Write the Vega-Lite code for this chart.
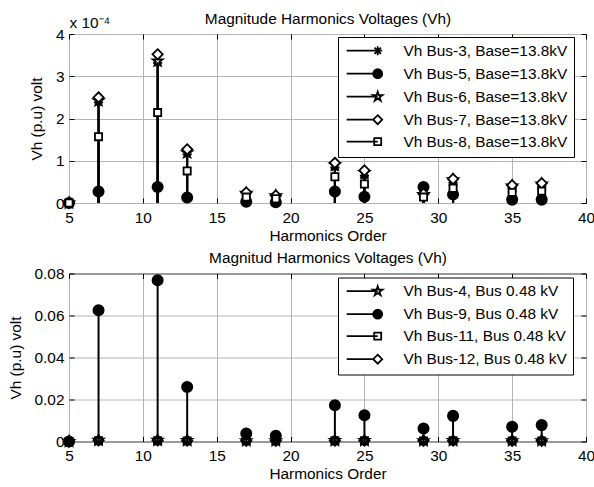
{
  "$schema": "https://vega.github.io/schema/vega-lite/v6.json",
  "padding": {"top": 10, "left": 7, "right": 5, "bottom": 3},
  "spacing": 4.5,
  "background": "white",
  "datasets": {
    "top": [
      {"h": 5, "series": "Vh Bus-3, Base=13.8kV", "v": 0},
      {"h": 7, "series": "Vh Bus-3, Base=13.8kV", "v": 2.38},
      {"h": 11, "series": "Vh Bus-3, Base=13.8kV", "v": 3.32},
      {"h": 13, "series": "Vh Bus-3, Base=13.8kV", "v": 1.15},
      {"h": 17, "series": "Vh Bus-3, Base=13.8kV", "v": 0.2},
      {"h": 19, "series": "Vh Bus-3, Base=13.8kV", "v": 0.14},
      {"h": 23, "series": "Vh Bus-3, Base=13.8kV", "v": 0.84},
      {"h": 25, "series": "Vh Bus-3, Base=13.8kV", "v": 0.65},
      {"h": 29, "series": "Vh Bus-3, Base=13.8kV", "v": 0.18},
      {"h": 31, "series": "Vh Bus-3, Base=13.8kV", "v": 0.48},
      {"h": 35, "series": "Vh Bus-3, Base=13.8kV", "v": 0.36},
      {"h": 37, "series": "Vh Bus-3, Base=13.8kV", "v": 0.4},
      {"h": 5, "series": "Vh Bus-5, Base=13.8kV", "v": 0},
      {"h": 7, "series": "Vh Bus-5, Base=13.8kV", "v": 0.27},
      {"h": 11, "series": "Vh Bus-5, Base=13.8kV", "v": 0.38},
      {"h": 13, "series": "Vh Bus-5, Base=13.8kV", "v": 0.13},
      {"h": 17, "series": "Vh Bus-5, Base=13.8kV", "v": 0.03},
      {"h": 19, "series": "Vh Bus-5, Base=13.8kV", "v": 0.02},
      {"h": 23, "series": "Vh Bus-5, Base=13.8kV", "v": 0.27},
      {"h": 25, "series": "Vh Bus-5, Base=13.8kV", "v": 0.15},
      {"h": 29, "series": "Vh Bus-5, Base=13.8kV", "v": 0.38},
      {"h": 31, "series": "Vh Bus-5, Base=13.8kV", "v": 0.2},
      {"h": 35, "series": "Vh Bus-5, Base=13.8kV", "v": 0.08},
      {"h": 37, "series": "Vh Bus-5, Base=13.8kV", "v": 0.08},
      {"h": 5, "series": "Vh Bus-6, Base=13.8kV", "v": 0},
      {"h": 7, "series": "Vh Bus-6, Base=13.8kV", "v": 2.42},
      {"h": 11, "series": "Vh Bus-6, Base=13.8kV", "v": 3.36},
      {"h": 13, "series": "Vh Bus-6, Base=13.8kV", "v": 1.19},
      {"h": 17, "series": "Vh Bus-6, Base=13.8kV", "v": 0.23},
      {"h": 19, "series": "Vh Bus-6, Base=13.8kV", "v": 0.17},
      {"h": 23, "series": "Vh Bus-6, Base=13.8kV", "v": 0.9},
      {"h": 25, "series": "Vh Bus-6, Base=13.8kV", "v": 0.72},
      {"h": 29, "series": "Vh Bus-6, Base=13.8kV", "v": 0.2},
      {"h": 31, "series": "Vh Bus-6, Base=13.8kV", "v": 0.55},
      {"h": 35, "series": "Vh Bus-6, Base=13.8kV", "v": 0.4},
      {"h": 37, "series": "Vh Bus-6, Base=13.8kV", "v": 0.45},
      {"h": 5, "series": "Vh Bus-7, Base=13.8kV", "v": 0},
      {"h": 7, "series": "Vh Bus-7, Base=13.8kV", "v": 2.5},
      {"h": 11, "series": "Vh Bus-7, Base=13.8kV", "v": 3.52},
      {"h": 13, "series": "Vh Bus-7, Base=13.8kV", "v": 1.27},
      {"h": 17, "series": "Vh Bus-7, Base=13.8kV", "v": 0.25},
      {"h": 19, "series": "Vh Bus-7, Base=13.8kV", "v": 0.18},
      {"h": 23, "series": "Vh Bus-7, Base=13.8kV", "v": 0.95},
      {"h": 25, "series": "Vh Bus-7, Base=13.8kV", "v": 0.77},
      {"h": 29, "series": "Vh Bus-7, Base=13.8kV", "v": 0.22},
      {"h": 31, "series": "Vh Bus-7, Base=13.8kV", "v": 0.57},
      {"h": 35, "series": "Vh Bus-7, Base=13.8kV", "v": 0.42},
      {"h": 37, "series": "Vh Bus-7, Base=13.8kV", "v": 0.47},
      {"h": 5, "series": "Vh Bus-8, Base=13.8kV", "v": 0},
      {"h": 7, "series": "Vh Bus-8, Base=13.8kV", "v": 1.57},
      {"h": 11, "series": "Vh Bus-8, Base=13.8kV", "v": 2.14},
      {"h": 13, "series": "Vh Bus-8, Base=13.8kV", "v": 0.76},
      {"h": 17, "series": "Vh Bus-8, Base=13.8kV", "v": 0.14},
      {"h": 19, "series": "Vh Bus-8, Base=13.8kV", "v": 0.1},
      {"h": 23, "series": "Vh Bus-8, Base=13.8kV", "v": 0.62},
      {"h": 25, "series": "Vh Bus-8, Base=13.8kV", "v": 0.45},
      {"h": 29, "series": "Vh Bus-8, Base=13.8kV", "v": 0.14},
      {"h": 31, "series": "Vh Bus-8, Base=13.8kV", "v": 0.35},
      {"h": 35, "series": "Vh Bus-8, Base=13.8kV", "v": 0.25},
      {"h": 37, "series": "Vh Bus-8, Base=13.8kV", "v": 0.28}
    ],
    "bottom": [
      {"h": 5, "series": "Vh Bus-4, Bus 0.48 kV", "v": 0},
      {"h": 7, "series": "Vh Bus-4, Bus 0.48 kV", "v": 0.0006},
      {"h": 11, "series": "Vh Bus-4, Bus 0.48 kV", "v": 0.0006},
      {"h": 13, "series": "Vh Bus-4, Bus 0.48 kV", "v": 0.0005},
      {"h": 17, "series": "Vh Bus-4, Bus 0.48 kV", "v": 0.0004},
      {"h": 19, "series": "Vh Bus-4, Bus 0.48 kV", "v": 0.0004},
      {"h": 23, "series": "Vh Bus-4, Bus 0.48 kV", "v": 0.0005},
      {"h": 25, "series": "Vh Bus-4, Bus 0.48 kV", "v": 0.0005},
      {"h": 29, "series": "Vh Bus-4, Bus 0.48 kV", "v": 0.0004},
      {"h": 31, "series": "Vh Bus-4, Bus 0.48 kV", "v": 0.0005},
      {"h": 35, "series": "Vh Bus-4, Bus 0.48 kV", "v": 0.0004},
      {"h": 37, "series": "Vh Bus-4, Bus 0.48 kV", "v": 0.0004},
      {"h": 5, "series": "Vh Bus-9, Bus 0.48 kV", "v": 0},
      {"h": 7, "series": "Vh Bus-9, Bus 0.48 kV", "v": 0.0625},
      {"h": 11, "series": "Vh Bus-9, Bus 0.48 kV", "v": 0.0768},
      {"h": 13, "series": "Vh Bus-9, Bus 0.48 kV", "v": 0.026},
      {"h": 17, "series": "Vh Bus-9, Bus 0.48 kV", "v": 0.0038},
      {"h": 19, "series": "Vh Bus-9, Bus 0.48 kV", "v": 0.0027},
      {"h": 23, "series": "Vh Bus-9, Bus 0.48 kV", "v": 0.0173},
      {"h": 25, "series": "Vh Bus-9, Bus 0.48 kV", "v": 0.0125},
      {"h": 29, "series": "Vh Bus-9, Bus 0.48 kV", "v": 0.0062},
      {"h": 31, "series": "Vh Bus-9, Bus 0.48 kV", "v": 0.0122},
      {"h": 35, "series": "Vh Bus-9, Bus 0.48 kV", "v": 0.007},
      {"h": 37, "series": "Vh Bus-9, Bus 0.48 kV", "v": 0.0078},
      {"h": 5, "series": "Vh Bus-11, Bus 0.48 kV", "v": 0},
      {"h": 7, "series": "Vh Bus-11, Bus 0.48 kV", "v": 0.0004},
      {"h": 11, "series": "Vh Bus-11, Bus 0.48 kV", "v": 0.0004},
      {"h": 13, "series": "Vh Bus-11, Bus 0.48 kV", "v": 0.0003},
      {"h": 17, "series": "Vh Bus-11, Bus 0.48 kV", "v": 0.0003},
      {"h": 19, "series": "Vh Bus-11, Bus 0.48 kV", "v": 0.0003},
      {"h": 23, "series": "Vh Bus-11, Bus 0.48 kV", "v": 0.0004},
      {"h": 25, "series": "Vh Bus-11, Bus 0.48 kV", "v": 0.0004},
      {"h": 29, "series": "Vh Bus-11, Bus 0.48 kV", "v": 0.0003},
      {"h": 31, "series": "Vh Bus-11, Bus 0.48 kV", "v": 0.0004},
      {"h": 35, "series": "Vh Bus-11, Bus 0.48 kV", "v": 0.0003},
      {"h": 37, "series": "Vh Bus-11, Bus 0.48 kV", "v": 0.0003},
      {"h": 5, "series": "Vh Bus-12, Bus 0.48 kV", "v": 0},
      {"h": 7, "series": "Vh Bus-12, Bus 0.48 kV", "v": 0.0005},
      {"h": 11, "series": "Vh Bus-12, Bus 0.48 kV", "v": 0.0005},
      {"h": 13, "series": "Vh Bus-12, Bus 0.48 kV", "v": 0.0004},
      {"h": 17, "series": "Vh Bus-12, Bus 0.48 kV", "v": 0.0003},
      {"h": 19, "series": "Vh Bus-12, Bus 0.48 kV", "v": 0.0003},
      {"h": 23, "series": "Vh Bus-12, Bus 0.48 kV", "v": 0.0004},
      {"h": 25, "series": "Vh Bus-12, Bus 0.48 kV", "v": 0.0004},
      {"h": 29, "series": "Vh Bus-12, Bus 0.48 kV", "v": 0.0003},
      {"h": 31, "series": "Vh Bus-12, Bus 0.48 kV", "v": 0.0004},
      {"h": 35, "series": "Vh Bus-12, Bus 0.48 kV", "v": 0.0003},
      {"h": 37, "series": "Vh Bus-12, Bus 0.48 kV", "v": 0.0003}
    ]
  },
  "vconcat": [
    {
      "width": 517,
      "height": 169,
      "data": {"name": "top"},
      "resolve": {"scale": {"shape": "independent", "fill": "independent"}, "axis": {"x": "independent", "y": "independent"}},
      "layer": [
        {
          "mark": {"type": "rule", "color": "black", "strokeWidth": 2},
          "encoding": {
            "x": {"field": "h", "type": "quantitative", "scale": {"domain": [5, 40], "nice": false}, "axis": {"orient": "bottom", "values": [5, 10, 15, 20, 25, 30, 35, 40], "title": "Harmonics Order"}},
            "y": {"field": "v", "type": "quantitative", "scale": {"domain": [0, 4], "nice": false}, "axis": {"orient": "left", "values": [0, 1, 2, 3, 4], "format": "d", "title": "Vh (p.u) volt"}},
            "y2": {"datum": 0}
          }
        },
        {
          "mark": {"type": "point", "stroke": "black", "strokeWidth": 1.8, "size": 105, "opacity": 1, "fillOpacity": 1},
          "encoding": {
            "x": {"field": "h", "type": "quantitative", "axis": {"orient": "top", "values": [5, 10, 15, 20, 25, 30, 35, 40], "labels": false, "grid": false, "title": "Magnitude Harmonics Voltages (Vh)", "titleY": -11, "titleBaseline": "alphabetic"}},
            "y": {"field": "v", "type": "quantitative", "axis": {"orient": "right", "values": [0, 1, 2, 3, 4], "labels": false, "grid": false, "title": "x 10⁻⁴", "titleAngle": 0, "titleX": -517, "titleY": -7, "titleAlign": "left", "titleBaseline": "alphabetic"}},
            "shape": {"field": "series", "type": "nominal", "legend": null, "scale": {
              "domain": ["Vh Bus-3, Base=13.8kV", "Vh Bus-5, Base=13.8kV", "Vh Bus-6, Base=13.8kV", "Vh Bus-7, Base=13.8kV", "Vh Bus-8, Base=13.8kV"],
              "range": ["M-0.9,0H0.9M0,-0.9V0.9M-0.64,-0.64L0.64,0.64M-0.64,0.64L0.64,-0.64", "circle", "M0,-1L0.225,-0.309L0.951,-0.309L0.363,0.118L0.588,0.809L0,0.382L-0.588,0.809L-0.363,0.118L-0.951,-0.309L-0.225,-0.309Z", "M0,-1L1,0L0,1L-1,0Z", "M-0.7,-0.7H0.7V0.7H-0.7Z"]}},
            "fill": {"field": "series", "type": "nominal", "legend": null, "scale": {
              "domain": ["Vh Bus-3, Base=13.8kV", "Vh Bus-5, Base=13.8kV", "Vh Bus-6, Base=13.8kV", "Vh Bus-7, Base=13.8kV", "Vh Bus-8, Base=13.8kV"],
              "range": ["white", "black", "white", "white", "white"]}}
          }
        },
        {
          "mark": {"type": "point", "stroke": "black", "strokeWidth": 1.8, "opacity": 0},
          "encoding": {
            "x": {"field": "h", "type": "quantitative", "axis": null},
            "y": {"field": "v", "type": "quantitative", "axis": null},
            "shape": {"field": "series", "type": "nominal", "scale": {
              "domain": ["Vh Bus-3, Base=13.8kV", "Vh Bus-5, Base=13.8kV", "Vh Bus-6, Base=13.8kV", "Vh Bus-7, Base=13.8kV", "Vh Bus-8, Base=13.8kV"],
              "range": ["M-5.17,0H0.75M0,-0.75V0.75M-0.53,-0.53L0.53,0.53M-0.53,0.53L0.53,-0.53", "M-5.17,0H0M0.75,0C0.75,0.414,0.414,0.75,0,0.75C-0.414,0.75,-0.75,0.414,-0.75,0C-0.75,-0.414,-0.414,-0.75,0,-0.75C0.414,-0.75,0.75,-0.414,0.75,0Z", "M-5.17,0H0M0,-0.833L0.187,-0.257L0.792,-0.257L0.302,0.098L0.49,0.674L0,0.318L-0.49,0.674L-0.302,0.098L-0.792,-0.257L-0.187,-0.257Z", "M-5.17,0H-0.75M0,-0.75L0.75,0L0,0.75L-0.75,0Z", "M-5.17,0H0M-0.583,-0.583H0.583V0.583H-0.583Z"]},
              "legend": {"title": null, "orient": "none", "legendX": 269, "legendY": 3, "padding": 6, "rowPadding": 5, "symbolSize": 144, "symbolOffset": 26, "labelOffset": 18, "symbolStrokeWidth": 1.8, "symbolStrokeColor": "black", "symbolOpacity": 1,
                "encode": {"symbols": {"update": {"opacity": {"value": 1}, "strokeOpacity": {"value": 1}, "fillOpacity": {"value": 1}}}}}},
            "fill": {"field": "series", "type": "nominal", "scale": {
              "domain": ["Vh Bus-3, Base=13.8kV", "Vh Bus-5, Base=13.8kV", "Vh Bus-6, Base=13.8kV", "Vh Bus-7, Base=13.8kV", "Vh Bus-8, Base=13.8kV"],
              "range": ["white", "black", "white", "white", "white"]},
              "legend": {"title": null, "orient": "none", "legendX": 269, "legendY": 3, "padding": 6, "rowPadding": 5, "symbolSize": 144, "symbolOffset": 26, "labelOffset": 18, "symbolStrokeWidth": 1.8, "symbolStrokeColor": "black", "symbolOpacity": 1,
                "encode": {"symbols": {"update": {"opacity": {"value": 1}, "strokeOpacity": {"value": 1}, "fillOpacity": {"value": 1}}}}}}
          }
        }
      ]
    },
    {
      "width": 517,
      "height": 168,
      "data": {"name": "bottom"},
      "resolve": {"scale": {"shape": "independent", "fill": "independent"}, "axis": {"x": "independent", "y": "independent"}},
      "layer": [
        {
          "mark": {"type": "rule", "color": "black", "strokeWidth": 2},
          "encoding": {
            "x": {"field": "h", "type": "quantitative", "scale": {"domain": [5, 40], "nice": false}, "axis": {"orient": "bottom", "values": [5, 10, 15, 20, 25, 30, 35, 40], "title": "Harmonics Order"}},
            "y": {"field": "v", "type": "quantitative", "scale": {"domain": [0, 0.08], "nice": false}, "axis": {"orient": "left", "values": [0, 0.02, 0.04, 0.06, 0.08], "labelExpr": "datum.value == 0 ? '0' : format(datum.value, '.2f')", "title": "Vh (p.u) volt"}},
            "y2": {"datum": 0}
          }
        },
        {
          "mark": {"type": "point", "stroke": "black", "strokeWidth": 1.8, "size": 105, "opacity": 1, "fillOpacity": 1},
          "encoding": {
            "x": {"field": "h", "type": "quantitative", "axis": {"orient": "top", "values": [5, 10, 15, 20, 25, 30, 35, 40], "labels": false, "grid": false, "title": "Magnitud Harmonics Voltages (Vh)", "titleY": -11, "titleBaseline": "alphabetic"}},
            "y": {"field": "v", "type": "quantitative", "axis": {"orient": "right", "values": [0, 0.02, 0.04, 0.06, 0.08], "labels": false, "grid": false, "title": null}},
            "shape": {"field": "series", "type": "nominal", "legend": null, "scale": {
              "domain": ["Vh Bus-4, Bus 0.48 kV", "Vh Bus-9, Bus 0.48 kV", "Vh Bus-11, Bus 0.48 kV", "Vh Bus-12, Bus 0.48 kV"],
              "range": ["M0,-1L0.225,-0.309L0.951,-0.309L0.363,0.118L0.588,0.809L0,0.382L-0.588,0.809L-0.363,0.118L-0.951,-0.309L-0.225,-0.309Z", "circle", "M-0.7,-0.7H0.7V0.7H-0.7Z", "M0,-1L1,0L0,1L-1,0Z"]}},
            "fill": {"field": "series", "type": "nominal", "legend": null, "scale": {
              "domain": ["Vh Bus-4, Bus 0.48 kV", "Vh Bus-9, Bus 0.48 kV", "Vh Bus-11, Bus 0.48 kV", "Vh Bus-12, Bus 0.48 kV"],
              "range": ["transparent", "black", "transparent", "transparent"]}}
          }
        },
        {
          "mark": {"type": "point", "stroke": "black", "strokeWidth": 1.8, "opacity": 0},
          "encoding": {
            "x": {"field": "h", "type": "quantitative", "axis": null},
            "y": {"field": "v", "type": "quantitative", "axis": null},
            "shape": {"field": "series", "type": "nominal", "scale": {
              "domain": ["Vh Bus-4, Bus 0.48 kV", "Vh Bus-9, Bus 0.48 kV", "Vh Bus-11, Bus 0.48 kV", "Vh Bus-12, Bus 0.48 kV"],
              "range": ["M-5.17,0H0M0,-0.833L0.187,-0.257L0.792,-0.257L0.302,0.098L0.49,0.674L0,0.318L-0.49,0.674L-0.302,0.098L-0.792,-0.257L-0.187,-0.257Z", "M-5.17,0H0M0.75,0C0.75,0.414,0.414,0.75,0,0.75C-0.414,0.75,-0.75,0.414,-0.75,0C-0.75,-0.414,-0.414,-0.75,0,-0.75C0.414,-0.75,0.75,-0.414,0.75,0Z", "M-5.17,0H0M-0.583,-0.583H0.583V0.583H-0.583Z", "M-5.17,0H-0.75M0,-0.75L0.75,0L0,0.75L-0.75,0Z"]},
              "legend": {"title": null, "orient": "none", "legendX": 269, "legendY": 4, "padding": 6, "rowPadding": 5, "symbolSize": 144, "symbolOffset": 26, "labelOffset": 18, "symbolStrokeWidth": 1.8, "symbolStrokeColor": "black", "symbolOpacity": 1,
                "encode": {"symbols": {"update": {"opacity": {"value": 1}, "strokeOpacity": {"value": 1}, "fillOpacity": {"value": 1}}}}}},
            "fill": {"field": "series", "type": "nominal", "scale": {
              "domain": ["Vh Bus-4, Bus 0.48 kV", "Vh Bus-9, Bus 0.48 kV", "Vh Bus-11, Bus 0.48 kV", "Vh Bus-12, Bus 0.48 kV"],
              "range": ["white", "black", "white", "white"]},
              "legend": {"title": null, "orient": "none", "legendX": 269, "legendY": 4, "padding": 6, "rowPadding": 5, "symbolSize": 144, "symbolOffset": 26, "labelOffset": 18, "symbolStrokeWidth": 1.8, "symbolStrokeColor": "black", "symbolOpacity": 1,
                "encode": {"symbols": {"update": {"opacity": {"value": 1}, "strokeOpacity": {"value": 1}, "fillOpacity": {"value": 1}}}}}}
          }
        }
      ]
    }
  ],
  "config": {
    "view": {"stroke": "black", "strokeWidth": 1},
    "axis": {"grid": true, "gridColor": "#b4b4b4", "gridWidth": 1, "domain": false, "ticks": true, "tickColor": "black", "tickSize": -5, "tickWidth": 1,
      "labelFont": "Liberation Sans", "labelFontSize": 15.4, "labelColor": "black", "labelFlush": false, "labelOverlap": false,
      "titleFont": "Liberation Sans", "titleFontSize": 15.4, "titleFontWeight": "normal", "titleColor": "black"},
    "axisX": {"labelPadding": 12.3, "titlePadding": 2.5},
    "axisY": {"labelPadding": 10, "titlePadding": 11},
    "legend": {"labelFont": "Liberation Sans", "labelFontSize": 15.4, "labelColor": "black", "labelLimit": 0, "strokeColor": "black", "fillColor": "white", "cornerRadius": 0}
  }
}
